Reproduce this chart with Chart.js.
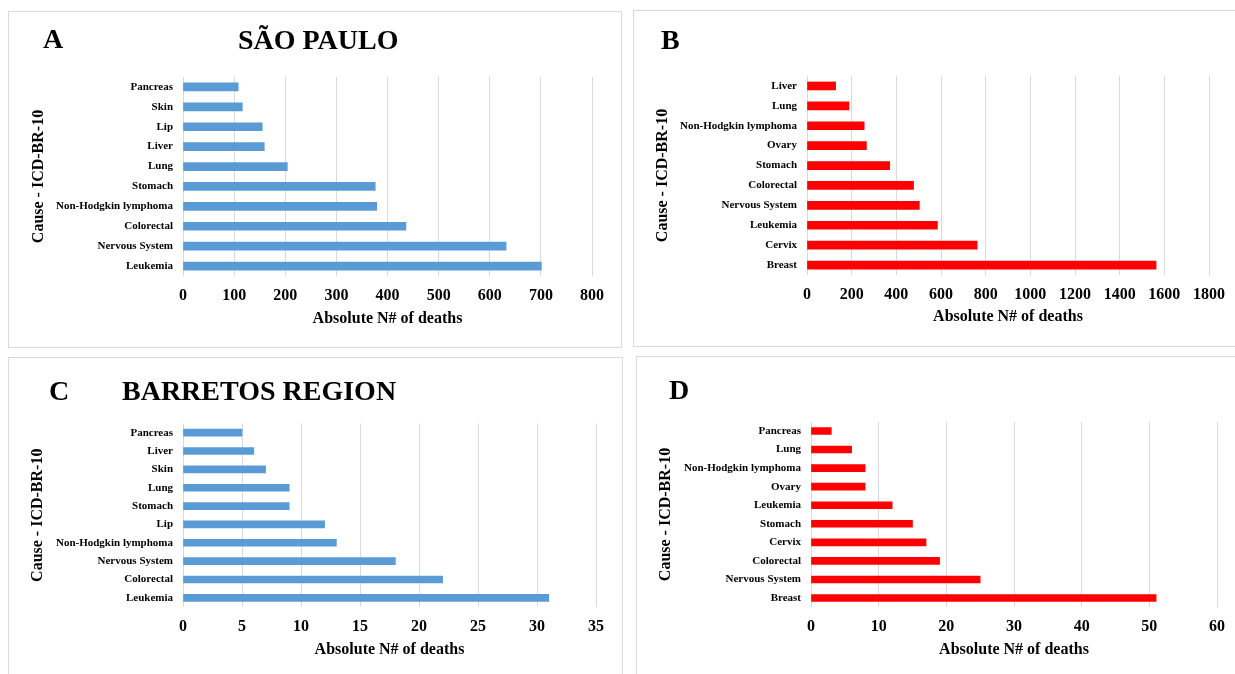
<!DOCTYPE html>
<html>
<head>
<meta charset="utf-8">
<script src="https://cdn.jsdelivr.net/npm/chart.js@4"></script>
<style>
  body { margin: 0; background: #fff; width: 1235px; height: 674px; overflow: hidden; position: relative; }
  .box { position: absolute; border: 1px solid #d9d9d9; box-sizing: border-box; }
  .cv { position: absolute; }
  .head { position: absolute; font-family: "Liberation Serif", "Times New Roman", serif; font-weight: bold; font-size: 28px; line-height: 28px; white-space: nowrap; color: #000; }
</style>
</head>
<body>
<div class="box" style="left:8px;top:11px;width:614px;height:337px"></div>
<div class="box" style="left:633px;top:10px;width:610px;height:337px"></div>
<div class="box" style="left:8px;top:357px;width:615px;height:330px"></div>
<div class="box" style="left:636px;top:356px;width:610px;height:330px"></div>

<canvas id="chartA" class="cv" style="left:9px;top:12px" width="611" height="334"></canvas>
<canvas id="chartB" class="cv" style="left:634px;top:11px" width="601" height="335"></canvas>
<canvas id="chartC" class="cv" style="left:9px;top:358px" width="612" height="316"></canvas>
<canvas id="chartD" class="cv" style="left:637px;top:357px" width="598" height="317"></canvas>

<div class="head" style="left:43px;top:25px">A</div>
<div class="head" style="left:238px;top:26px">SÃO PAULO</div>
<div class="head" style="left:661px;top:26px">B</div>
<div class="head" style="left:49px;top:377px">C</div>
<div class="head" style="left:122px;top:377px">BARRETOS REGION</div>
<div class="head" style="left:669px;top:376px">D</div>

<script>
// São Paulo - male
const causesA = ["Pancreas", "Skin", "Lip", "Liver", "Lung", "Stomach", "Non-Hodgkin lymphoma", "Colorectal", "Nervous System", "Leukemia"];
const deathsA = [108, 116, 155, 159, 204, 376, 379, 436, 632, 701];

// São Paulo - female
const causesB = ["Liver", "Lung", "Non-Hodgkin lymphoma", "Ovary", "Stomach", "Colorectal", "Nervous System", "Leukemia", "Cervix", "Breast"];
const deathsB = [128, 188, 256, 266, 370, 477, 503, 584, 762, 1563];

// Barretos region - male
const causesC = ["Pancreas", "Liver", "Skin", "Lung", "Stomach", "Lip", "Non-Hodgkin lymphoma", "Nervous System", "Colorectal", "Leukemia"];
const deathsC = [5, 6, 7, 9, 9, 12, 13, 18, 22, 31];

// Barretos region - female
const causesD = ["Pancreas", "Lung", "Non-Hodgkin lymphoma", "Ovary", "Leukemia", "Stomach", "Cervix", "Colorectal", "Nervous System", "Breast"];
const deathsD = [3, 6, 8, 8, 12, 15, 17, 19, 25, 51];

const xTitle = "Absolute N# of deaths";
const yTitle = "Cause - ICD-BR-10";

const serif = "'Liberation Serif', 'Times New Roman', serif";

function makeChart(id, labels, values, color, xMax, xStep, lay) {
    new Chart(document.getElementById(id), {
        type: 'bar',
        data: {
            labels: labels,
            datasets: [{
                data: values,
                backgroundColor: color,
                barThickness: lay.bar
            }]
        },
        options: {
            indexAxis: 'y',
            responsive: false,
            animation: false,
            layout: {
                padding: { left: 0, top: lay.top, right: lay.right, bottom: 0 }
            },
            plugins: {
                legend: { display: false },
                tooltip: { enabled: false }
            },
            scales: {
                x: {
                    min: 0,
                    max: xMax,
                    ticks: {
                        stepSize: xStep,
                        padding: 10,
                        color: '#000',
                        maxRotation: 0,
                        format: { useGrouping: false },
                        font: { family: serif, size: 16, weight: 'bold' }
                    },
                    grid: { color: '#d9d9d9', drawTicks: false, lineWidth: 1 },
                    border: { display: false },
                    title: {
                        display: true,
                        text: xTitle,
                        color: '#000',
                        padding: { top: 0, bottom: lay.xtPad },
                        font: { family: serif, size: 16, weight: 'bold' }
                    },
                    afterFit: function (s) { s.height = lay.xh; }
                },
                y: {
                    ticks: {
                        padding: 10,
                        color: '#000',
                        autoSkip: false,
                        font: { family: serif, size: 11, weight: 'bold' }
                    },
                    grid: { display: false, drawTicks: false },
                    border: { display: false },
                    title: {
                        display: true,
                        text: yTitle,
                        color: '#000',
                        padding: { top: lay.ytPad, bottom: 0 },
                        font: { family: serif, size: 16, weight: 'bold' }
                    },
                    afterFit: function (s) { s.width = lay.yw; }
                }
            }
        }
    });
}

const blue = '#5b9bd5';
const red = '#ff0000';

makeChart('chartA', causesA, deathsA, blue, 800, 100,
    { top: 65, right: 28, xh: 70, yw: 174, xtPad: 17.4, ytPad: 19.8, bar: 8 });
makeChart('chartB', causesB, deathsB, red, 1800, 200,
    { top: 65, right: 26, xh: 71, yw: 173, xtPad: 19.4, ytPad: 19.4, bar: 8 });
makeChart('chartC', causesC, deathsC, blue, 35, 5,
    { top: 65.5, right: 25, xh: 67, yw: 174, xtPad: 14.4, ytPad: 19.4, bar: 7 });
makeChart('chartD', causesD, deathsD, red, 60, 10,
    { top: 64.7, right: 13, xh: 66.7, yw: 174, xtPad: 14.4, ytPad: 19.4, bar: 7 });
</script>
</body>
</html>
